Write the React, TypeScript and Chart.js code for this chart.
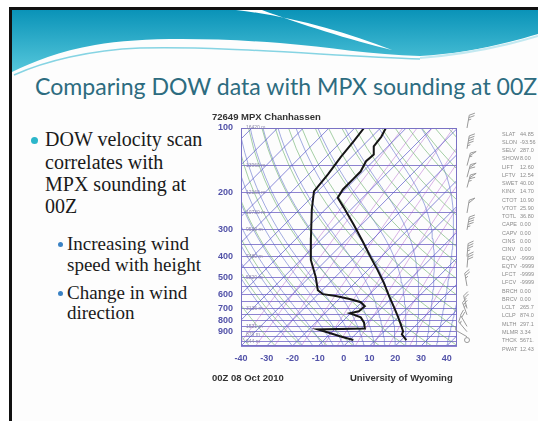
import React, { useEffect, useRef } from "react";
import { Chart, registerables } from "chart.js";

Chart.register(...registerables);

// Radiosonde profile, 72649 MPX, 00Z 08 Oct 2010 (pressure hPa / deg C)
const TEMP_P = [100, 110, 122, 133, 143, 160, 174, 194, 212, 236, 284, 341, 406, 463, 533, 607, 691, 762, 832, 897, 927, 985];
const TEMP_C = [-67.9, -66.3, -65.5, -62.4, -62.8, -60.9, -60.9, -60.9, -59.7, -53.5, -43.0, -32.9, -23.5, -16.2, -8.7, -2.2, 4.5, 9.5, 13.8, 17.4, 18.1, 22.0];
const DEW_P = [100, 115, 137, 165, 198, 241, 327, 415, 499, 575, 600, 613, 634, 655, 684, 722, 738, 771, 814, 869, 878, 907, 947, 985];
const DEW_C = [-76.4, -75.3, -74.2, -72.5, -71.4, -65.2, -54.6, -46.1, -37.6, -31.7, -28.2, -22.4, -15.4, -10.3, -7.2, -7.6, -10.3, -4.5, -1.3, 1.4, -16.5, -11.4, -4.9, 1.4];

// Geopotential heights of mandatory levels
const HEIGHT_P = [100, 150, 200, 250, 300, 400, 500, 700, 850, 925, 1000];
const HEIGHT_M = [16420, 13960, 12160, 10730, 9530, 7480, 5820, 3136, 1521, 879, 344];

// Winds (direction deg, speed kt)
const WIND_P = [100, 125, 150, 170, 190, 250, 300, 400, 450, 550, 700, 750, 850, 900, 950, 985];
const WIND_DIR = [10, 10, 15, 15, 15, 10, 10, 5, 5, 350, 345, 340, 330, 320, 300, 0];
const WIND_KT = [25, 45, 55, 60, 65, 50, 45, 35, 30, 25, 20, 25, 20, 15, 5, 0];

// Station indices
const STAT_NAMES = ["SLAT", "SLON", "SELV", "SHOW", "LIFT", "LFTV", "SWET", "KINX", "CTOT", "VTOT", "TOTL", "CAPE", "CAPV", "CINS", "CINV", "EQLV", "EQTV", "LFCT", "LFCV", "BRCH", "BRCV", "LCLT", "LCLP", "MLTH", "MLMR", "THCK", "PWAT"];
const STAT_VALUES = ["44.85", "-93.56", "287.0", "8.00", "12.60", "12.54", "40.00", "14.70", "10.90", "25.90", "36.80", "0.00", "0.00", "0.00", "0.00", "-9999", "-9999", "-9999", "-9999", "0.00", "0.00", "265.7", "874.0", "297.1", "3.34", "5671.", "12.43"];

// Axis labels
const X_TICKS = [-40, -30, -20, -10, 0, 10, 20, 30, 40];
const Y_TICKS = [100, 200, 300, 400, 500, 600, 700, 800, 900];

const STATION_TITLE = "72649 MPX Chanhassen";
const DATE_LABEL = "00Z 08 Oct 2010";
const SOURCE_LABEL = "University of Wyoming";

// Skew-T geometry
const P_BOTTOM = 1050;
const P_TOP = 100;
const SKEW = 82.5;
const skewX = (t: number, p: number) => t + SKEW * Math.log10(P_BOTTOM / p);

const AXIS_BLUE = "#5252a8";
const FRAME = "#7a72c4";
const ISOBAR = "rgba(112,100,196,0.8)";
const ISOTHERM = "rgba(84,84,200,0.75)";
const DRY = "rgba(112,178,112,0.7)";
const MOIST = "rgba(84,100,200,0.6)";
const MIXING = "rgba(178,96,204,0.6)";

const pressures = (step: number, top = P_TOP) => {
  const out: number[] = [];
  for (let p = P_BOTTOM; p >= top - 1e-6; p -= step) out.push(p);
  return out;
};

const bg = (data: any[], color: string, width = 0.9) => ({
  data,
  showLine: true,
  borderColor: color,
  borderWidth: width,
  pointRadius: 0,
  order: 2,
});

function buildBackground() {
  const sets: any[] = [];
  // isotherms
  for (let t = -130; t <= 40; t += 10) {
    sets.push(bg([P_BOTTOM, P_TOP].map((p) => ({ x: skewX(t, p), y: p })), ISOTHERM));
  }
  // dry adiabats
  for (let th = -40; th <= 170; th += 10) {
    sets.push(
      bg(
        pressures(25).map((p) => ({ x: skewX((th + 273.15) * Math.pow(p / 1000, 0.2857) - 273.15, p), y: p })),
        DRY
      )
    );
  }
  // saturated adiabats
  const lapse = (T: number, p: number) => {
    const tc = T - 273.15;
    const es = 6.112 * Math.exp((17.67 * tc) / (tc + 243.5));
    const rs = (0.622 * es) / (p - es);
    return (287 * T + 2.5e6 * rs) / (p * (1005 + (2.5e6 * 2.5e6 * rs * 0.622) / (287 * T * T)));
  };
  for (let t0 = -20; t0 <= 40; t0 += 4) {
    const pts: any[] = [];
    let T = t0 + 273.15;
    const dp = -5;
    for (let p = P_BOTTOM; p >= P_TOP; p += dp) {
      if ((P_BOTTOM - p) % 20 === 0 || p === P_TOP) pts.push({ x: skewX(T - 273.15, p), y: p });
      const k1 = lapse(T, p);
      const k2 = lapse(T + (k1 * dp) / 2, p + dp / 2);
      T += k2 * dp;
    }
    sets.push(bg(pts, MOIST));
  }
  // mixing ratio lines (g/kg)
  for (const w of [0.1, 0.2, 0.4, 1, 2, 3, 5, 8, 12, 20]) {
    sets.push(
      bg(
        pressures(25).map((p) => {
          const e = (p * w) / (622 + w);
          const l = Math.log(e / 6.112);
          return { x: skewX((243.5 * l) / (17.67 - l), p), y: p };
        }),
        MIXING,
        0.8
      )
    );
  }
  return sets;
}

function drawBarb(ctx: CanvasRenderingContext2D, x0: number, y0: number, dir: number, kt: number) {
  if (kt < 2.5) {
    ctx.beginPath();
    ctx.arc(x0, y0, 2.5, 0, Math.PI * 2);
    ctx.stroke();
    return;
  }
  const len = 13;
  const r = (dir * Math.PI) / 180;
  const ux = Math.sin(r);
  const uy = -Math.cos(r);
  const fr = r + (60 * Math.PI) / 180;
  const fx = Math.sin(fr);
  const fy = -Math.cos(fr);
  ctx.beginPath();
  ctx.moveTo(x0, y0);
  ctx.lineTo(x0 + ux * len, y0 + uy * len);
  let rest = Math.round(kt / 5) * 5;
  let d = len;
  while (rest >= 50) {
    const bx = x0 + ux * d;
    const by = y0 + uy * d;
    ctx.moveTo(bx, by);
    ctx.lineTo(bx + fx * 6, by + fy * 6);
    ctx.lineTo(x0 + ux * (d - 3), y0 + uy * (d - 3));
    d -= 4;
    rest -= 50;
  }
  while (rest >= 10) {
    const bx = x0 + ux * d;
    const by = y0 + uy * d;
    ctx.moveTo(bx, by);
    ctx.lineTo(bx + fx * 6, by + fy * 6);
    d -= 2.5;
    rest -= 10;
  }
  if (rest >= 5) {
    const bx = x0 + ux * d;
    const by = y0 + uy * d;
    ctx.moveTo(bx, by);
    ctx.lineTo(bx + fx * 3, by + fy * 3);
  }
  ctx.stroke();
}

const decor = {
  id: "soundingDecor",
  afterDraw(chart: any) {
    const { ctx, chartArea: a, scales } = chart;
    const y = scales.y;
    const x = scales.x;
    ctx.save();
    // plot frame
    ctx.strokeStyle = FRAME;
    ctx.lineWidth = 1;
    ctx.strokeRect(a.left + 0.5, a.top + 0.5, a.right - a.left - 1, a.bottom - a.top - 1);

    // heading and footer
    ctx.fillStyle = "#333";
    ctx.font = 'bold 9.5px "Liberation Sans"';
    ctx.textAlign = "left";
    ctx.textBaseline = "alphabetic";
    ctx.fillText(STATION_TITLE, a.left - 29, a.top - 8);
    ctx.fillText(DATE_LABEL, a.left - 29, a.bottom + 35);
    ctx.textAlign = "right";
    ctx.fillText(SOURCE_LABEL, x.getPixelForValue(40) + 6, a.bottom + 35);

    // heights of mandatory levels
    ctx.font = '5px "Liberation Sans"';
    ctx.fillStyle = "#8a86a8";
    ctx.textAlign = "left";
    ctx.textBaseline = "middle";
    HEIGHT_P.forEach((p, i) => {
      const py = y.getPixelForValue(p);
      ctx.fillText(`${HEIGHT_M[i]} m`, a.left + 5, py);
    });

    // wind barbs
    ctx.strokeStyle = "#9a9a9a";
    ctx.lineWidth = 1;
    WIND_P.forEach((p, i) => {
      drawBarb(ctx, a.right + 10, y.getPixelForValue(p), WIND_DIR[i], WIND_KT[i]);
    });

    // indices
    ctx.font = '5.5px "Liberation Sans"';
    ctx.fillStyle = "#8c8c8c";
    ctx.textBaseline = "middle";
    STAT_NAMES.forEach((n, i) => {
      const ty = a.top + 6 + i * 8.27;
      ctx.fillText(n, a.right + 45, ty);
      ctx.fillText(STAT_VALUES[i], a.right + 63, ty);
    });
    ctx.restore();
  },
};

const tickFont = { family: '"Liberation Sans"', size: 9, weight: "bold" as const };

export default function App() {
  const ref = useRef<HTMLCanvasElement>(null);
  useEffect(() => {
    const isobars = pressures(50);
    const profile = (ps: number[], ts: number[]) => ({
      data: ps.map((p, i) => ({ x: skewX(ts[i], p), y: p })),
      showLine: true,
      borderColor: "#151515",
      borderWidth: 2,
      pointRadius: 0,
      order: 0,
    });
    const chart = new Chart(ref.current!, {
      type: "scatter",
      data: {
        datasets: [profile(TEMP_P, TEMP_C), profile(DEW_P, DEW_C), ...buildBackground()],
      },
      options: {
        responsive: false,
        animation: false,
        events: [],
        layout: { padding: { left: 211, right: 81, top: 128, bottom: 55 } },
        plugins: { legend: { display: false }, tooltip: { enabled: false } },
        scales: {
          x: {
            type: "linear",
            min: -40,
            max: 44,
            afterFit: (s: any) => {
              s.height = 20;
            },
            afterBuildTicks: (s: any) => {
              s.ticks = X_TICKS.map((v) => ({ value: v }));
            },
            grid: { display: false, drawTicks: false },
            border: { display: false },
            ticks: {
              color: AXIS_BLUE,
              font: tickFont,
              padding: 7,
              autoSkip: false,
              maxRotation: 0,
              callback: (v: any) => String(v),
            },
          },
          y: {
            type: "logarithmic",
            reverse: true,
            min: P_TOP,
            max: P_BOTTOM,
            afterFit: (s: any) => {
              s.width = 30;
            },
            afterBuildTicks: (s: any) => {
              s.ticks = isobars.map((v) => ({ value: v }));
            },
            grid: { color: ISOBAR, lineWidth: 1, drawTicks: false },
            border: { display: false },
            ticks: {
              color: AXIS_BLUE,
              font: tickFont,
              padding: 8,
              autoSkip: false,
              callback: (v: any) => (Y_TICKS.includes(Number(v)) ? String(v) : ""),
            },
          },
        },
      } as any,
      plugins: [decor],
    } as any);
    return () => chart.destroy();
  }, []);

  const serif = '"Liberation Serif", serif';
  const line1 = (text: string, baseline: number) => (
    <div
      key={text}
      style={{ position: "absolute", left: 45, top: baseline - 17.8, fontFamily: serif, fontSize: 20, lineHeight: "22px", color: "#1a1a1a", whiteSpace: "nowrap" }}
    >
      {text}
    </div>
  );
  const line2 = (text: string, baseline: number) => (
    <div
      key={text}
      style={{ position: "absolute", left: 67, top: baseline - 17.4, fontFamily: serif, fontSize: 19, lineHeight: "22px", color: "#1a1a1a", whiteSpace: "nowrap" }}
    >
      {text}
    </div>
  );
  const dot = (cx: number, cy: number, d: number, c: string) => (
    <div style={{ position: "absolute", left: cx - d / 2, top: cy - d / 2, width: d, height: d, borderRadius: "50%", background: c }} />
  );

  return (
    <div style={{ position: "fixed", left: 0, top: 0, width: 538, height: 421, overflow: "hidden", background: "#ffffff" }}>
      <div
        style={{
          position: "absolute",
          left: 9,
          top: 7,
          width: 540,
          height: 420,
          background: "#fdfdfd",
          borderLeft: "3px solid #111",
          borderTop: "3px solid #111",
        }}
      />
      <svg width={538} height={110} style={{ position: "absolute", left: 0, top: 0 }}>
        <defs>
          <linearGradient id="hdr" x1="0" y1="0" x2="0" y2="1">
            <stop offset="0" stopColor="#0a93b8" />
            <stop offset="1" stopColor="#55c7db" />
          </linearGradient>
        </defs>
        <path
          d="M12,10 H538 V34 C505,44 462,54 420,56 C372,55 330,47 280,43 C210,38 140,37 95,45 C60,51 32,62 12,72 Z"
          fill="url(#hdr)"
        />
        <path d="M236,10 C290,16 345,32 392,50 C350,40 300,24 262,10 Z" fill="#ffffff" />
        <path d="M14,75 C45,61 90,50 140,48 C230,46 330,56 420,59" stroke="#86d4e3" strokeWidth={1.5} fill="none" />
        <path d="M420,58 C470,54 505,46 538,36" stroke="#c3e9f1" strokeWidth={2} fill="none" />
      </svg>
      <div
        style={{
          position: "absolute",
          left: 35,
          top: 72,
          fontFamily: "Lato, sans-serif",
          fontSize: 23.1,
          lineHeight: "28px",
          color: "#2d6c80",
          whiteSpace: "nowrap",
        }}
      >
        Comparing DOW data with MPX sounding at 00Z
      </div>
      {dot(34, 140, 7, "#2cb6ca")}
      {line1("DOW velocity scan", 146)}
      {line1("correlates with", 169)}
      {line1("MPX sounding at", 191)}
      {line1("00Z", 213)}
      {dot(60, 244, 5, "#3a82c4")}
      {line2("Increasing wind", 250)}
      {line2("speed with height", 271)}
      {dot(60, 293, 5, "#3a82c4")}
      {line2("Change in wind", 299)}
      {line2("direction", 319)}
      <canvas ref={ref} width={538} height={421} style={{ position: "absolute", left: 0, top: 0, width: 538, height: 421 }} />
    </div>
  );
}
